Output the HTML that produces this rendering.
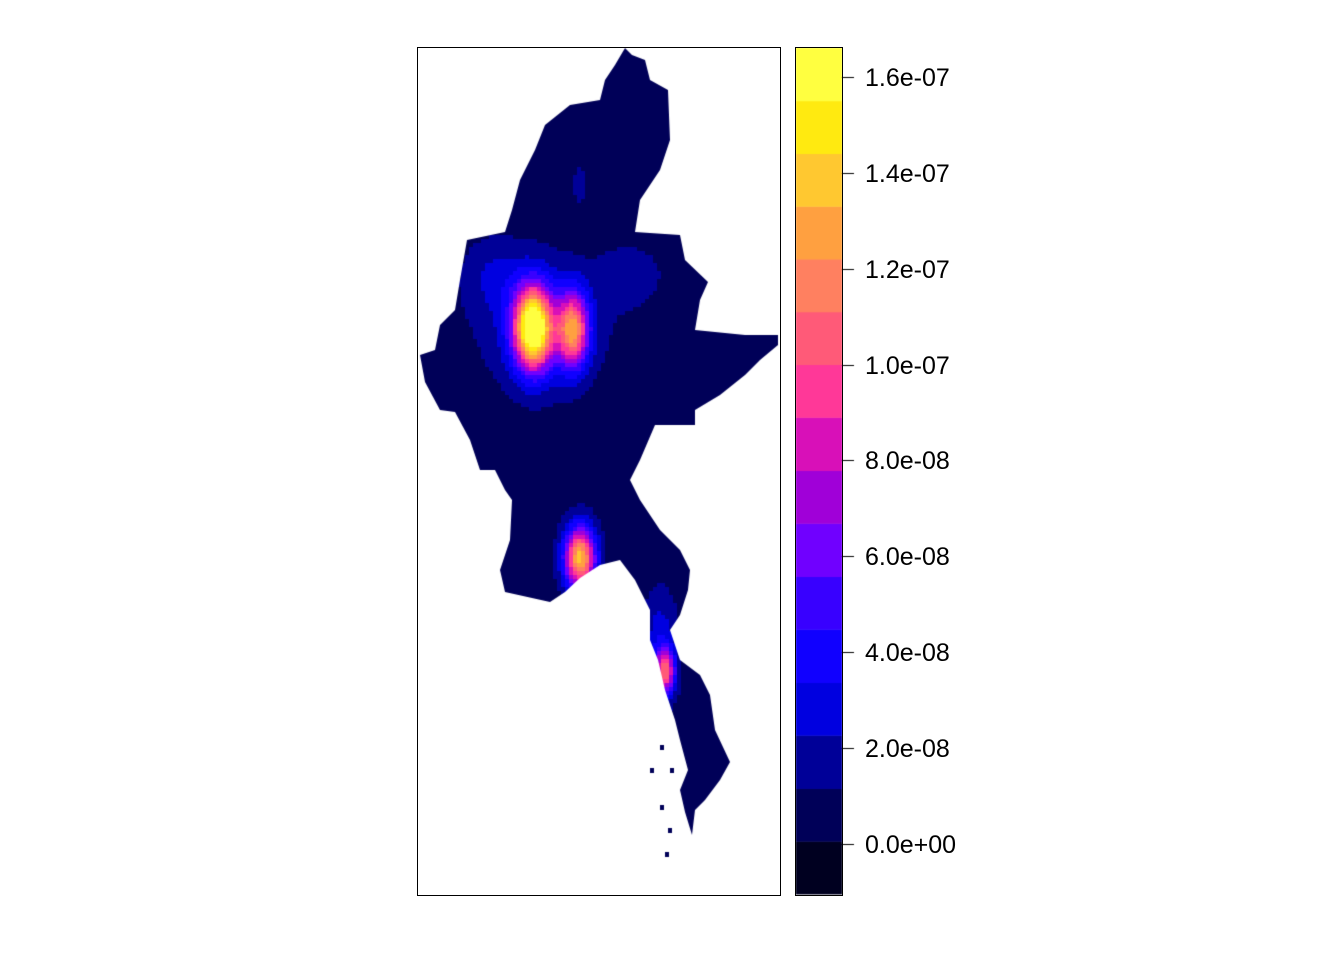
<!DOCTYPE html>
<html><head><meta charset="utf-8"><style>
html,body{margin:0;padding:0;background:#fff;}
#wrap{position:relative;width:1344px;height:960px;font-family:"Liberation Sans",sans-serif;}
canvas{position:absolute;left:0;top:0;}
.lab{position:absolute;left:865px;font-size:25px;color:#000;line-height:25px;}
</style></head><body>
<div id="wrap">
<canvas id="map" width="1344" height="960"></canvas>
<div id="frame" style="position:absolute;left:417px;top:47px;width:362px;height:847px;border:1px solid #000;"></div>
<div id="cbar" style="position:absolute;left:795px;top:47px;width:46px;height:847px;border:1px solid #000;"></div>
</div>
<script>
// colorbar breaks (units 1e-8) and colors
const breaks=[-1.04,0.06,1.16,2.27,3.37,4.48,5.58,6.69,7.79,8.90,10.0,11.1,12.2,13.3,14.4,15.5,16.6];
const colors=["#000020","#000058","#000098","#0000e0","#1000ff","#3800ff","#7000ff","#a000d8","#d810b8","#ff3898","#ff5a78","#ff8060","#ffa040","#ffc830","#ffea10","#ffff40"];
const tickValues=[0,2,4,6,8,10,12,14,16];
const tickLabels=["0.0e+00","2.0e-08","4.0e-08","6.0e-08","8.0e-08","1.0e-07","1.2e-07","1.4e-07","1.6e-07"];
// density peaks: centre x,y, amplitude (1e-8), spread
const peakX=[533,573,580,665,580,545,495,630,660,540];
const peakY=[328,330,558,672,185,320,275,275,640,330];
const peakA=[16.2,10.6,13.2,9.2,1.3,1.2,1.6,1.4,2.4,2.0];
const peakSX=[13,11,11,7,5,55,22,22,12,28];
const peakSY=[28,26,22,16,15,45,25,20,35,40];
const baseValue=0.5;
const outline=[[625,48],[632,55],[645,60],[650,80],[668,90],[670,140],[660,170],[640,200],[635,232],[680,235],[685,260],[708,282],[700,300],[695,330],[745,335],[778,335],[778,345],[760,360],[745,375],[720,395],[695,410],[695,425],[655,425],[640,460],[630,480],[640,500],[660,530],[680,550],[690,570],[688,590],[680,615],[670,630],[680,660],[700,675],[710,695],[715,730],[730,762],[720,780],[705,800],[695,810],[692,835],[685,812],[680,790],[688,770],[680,740],[675,720],[665,690],[658,660],[650,640],[650,610],[635,580],[620,560],[600,565],[580,578],[565,592],[550,602],[505,592],[500,570],[510,540],[512,500],[505,490],[495,470],[480,470],[470,440],[455,412],[440,410],[425,382],[420,355],[435,350],[440,325],[455,310],[460,280],[467,240],[505,232],[512,210],[520,180],[535,150],[545,125],[570,105],[600,100],[605,80],[615,65]];
const X0=417,X1=779,Y0=47,Y1=894;
const cbTop=48,cbBot=894;
function vy(v){return cbBot-(v-breaks[0])/(breaks[breaks.length-1]-breaks[0])*(cbBot-cbTop);}
function colorOf(v){for(let i=colors.length-1;i>=0;i--){if(v>=breaks[i])return colors[i];}return colors[0];}
const c=document.getElementById('map').getContext('2d');
c.save();
c.beginPath();outline.forEach((p,i)=>i?c.lineTo(p[0],p[1]):c.moveTo(p[0],p[1]));c.closePath();c.clip();
const cs=4;
for(let x=X0;x<X1;x+=cs){for(let y=Y0;y<Y1;y+=cs){
 let v=baseValue;const px=x+cs/2,py=y+cs/2;
 for(let k=0;k<peakX.length;k++){const dx=(px-peakX[k])/peakSX[k],dy=(py-peakY[k])/peakSY[k];v+=peakA[k]*Math.exp(-0.5*(dx*dx+dy*dy));}
 c.fillStyle=colorOf(v);c.fillRect(x,y,cs,cs);
}}
c.restore();
// small islands
[[660,745],[670,768],[660,805],[668,828],[665,852],[650,768],[685,745]].forEach(p=>{c.fillStyle="#000058";c.fillRect(p[0],p[1],4,5);});
// colorbar
for(let i=0;i<colors.length;i++){const y1=vy(breaks[i]),y2=vy(breaks[i+1]);c.fillStyle=colors[i];c.fillRect(796,y2,46,y1-y2+0.5);}
const wrap=document.getElementById('wrap');
c.strokeStyle="#000";c.lineWidth=1;
tickValues.forEach((t,i)=>{const y=Math.round(vy(t))+0.5;c.beginPath();c.moveTo(842,y);c.lineTo(854,y);c.stroke();
 const d=document.createElement('div');d.className='lab';d.style.top=(y-12)+'px';d.textContent=tickLabels[i];
 
 
 wrap.appendChild(d);});
</script>
</body></html>
